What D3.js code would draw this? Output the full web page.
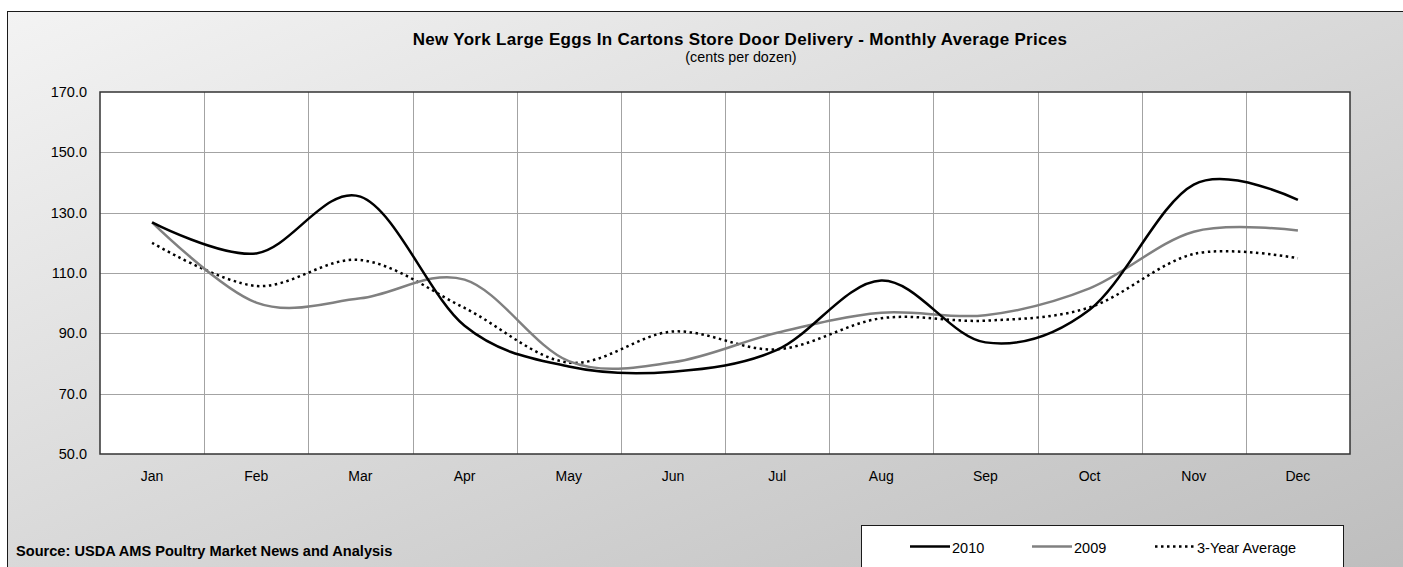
<!DOCTYPE html>
<html>
<head>
<meta charset="utf-8">
<script src="https://cdn.jsdelivr.net/npm/d3@7"></script>
<style>
  html, body { margin: 0; padding: 0; background: #fff; }
  svg { display: block; font-family: "Liberation Sans", Arial, sans-serif; }
</style>
</head>
<body>
<svg id="chart" width="1403" height="567"></svg>
<script>
// chart values
const months = ['Jan', 'Feb', 'Mar', 'Apr', 'May', 'Jun', 'Jul', 'Aug', 'Sep', 'Oct', 'Nov', 'Dec'];
const prices2010 = [126.8, 116.5, 135.3, 92.5, 79.0, 77.3, 84.5, 107.5, 87.0, 97.8, 139.3, 134.2];
const prices2009 = [126.8, 100.2, 101.6, 107.8, 80.8, 80.4, 90.2, 96.8, 96.0, 104.9, 123.7, 124.1];
const avg3Year = [120.0, 105.7, 114.3, 98.4, 80.3, 90.6, 84.7, 95.0, 94.2, 98.6, 116.3, 114.9];
const yTicks = [50, 70, 90, 110, 130, 150, 170];

const series = [
  { name: '2010', values: prices2010, color: '#000', width: 2.5, dash: null },
  { name: '2009', values: prices2009, color: '#808080', width: 2.5, dash: null },
  { name: '3-Year Average', values: avg3Year, color: '#000', width: 2.5, dash: '2.5,3.5' }
];

const svg = d3.select('#chart');
const plot = { left: 100, top: 92, right: 1350, bottom: 454 };

// background panel with diagonal gradient
const defs = svg.append('defs');
const grad = defs.append('linearGradient')
  .attr('id', 'bg')
  .attr('x1', 0).attr('y1', 0)
  .attr('x2', 1).attr('y2', 1);
grad.append('stop').attr('offset', '0%').attr('stop-color', '#f3f3f3');
grad.append('stop').attr('offset', '100%').attr('stop-color', '#bcbcbc');

svg.append('rect')
  .attr('x', 7.5).attr('y', 11.5)
  .attr('width', 1430).attr('height', 580)
  .attr('fill', 'url(#bg)')
  .attr('stroke', '#1a1a1a')
  .attr('stroke-width', 1);

// scales
const x = d3.scaleBand()
  .domain(months)
  .range([plot.left, plot.right]);

const y = d3.scaleLinear()
  .domain([50, 170])
  .range([plot.bottom, plot.top]);

// plot area
svg.append('rect')
  .attr('x', plot.left).attr('y', plot.top)
  .attr('width', plot.right - plot.left)
  .attr('height', plot.bottom - plot.top)
  .attr('fill', '#fff');

// gridlines
const grid = svg.append('g').attr('class', 'grid')
  .attr('stroke', '#a3a3a3')
  .attr('stroke-width', 1);

grid.selectAll('line.h')
  .data(yTicks.slice(1, -1))
  .join('line')
  .attr('class', 'h')
  .attr('x1', plot.left).attr('x2', plot.right)
  .attr('y1', d => Math.round(y(d)) + 0.5)
  .attr('y2', d => Math.round(y(d)) + 0.5);

grid.selectAll('line.v')
  .data(months.slice(1))
  .join('line')
  .attr('class', 'v')
  .attr('x1', d => Math.round(x(d)) + 0.5)
  .attr('x2', d => Math.round(x(d)) + 0.5)
  .attr('y1', plot.top).attr('y2', plot.bottom);

// axes labels
const yAxis = d3.axisLeft(y)
  .tickValues(yTicks)
  .tickFormat(d3.format('.1f'))
  .tickSize(0)
  .tickPadding(13);

svg.append('g')
  .attr('transform', `translate(${plot.left},0)`)
  .call(yAxis)
  .call(g => g.select('.domain').remove())
  .call(g => g.selectAll('text')
    .attr('font-family', '"Liberation Sans", Arial, sans-serif')
    .attr('font-size', 14.5)
    .attr('fill', '#000'));

const xAxis = d3.axisBottom(x)
  .tickSize(0)
  .tickPadding(17);

svg.append('g')
  .attr('transform', `translate(0,${plot.bottom})`)
  .call(xAxis)
  .call(g => g.select('.domain').remove())
  .call(g => g.selectAll('text')
    .attr('font-family', '"Liberation Sans", Arial, sans-serif')
    .attr('font-size', 14)
    .attr('fill', '#000'));

// lines
const line = d3.line()
  .x((d, i) => x(months[i]) + x.bandwidth() / 2)
  .y(d => y(d))
  .curve(d3.curveCardinal.tension(0));

svg.append('g').attr('class', 'series')
  .selectAll('path')
  .data(series.slice().reverse())
  .join('path')
  .attr('d', d => line(d.values))
  .attr('fill', 'none')
  .attr('stroke', d => d.color)
  .attr('stroke-width', d => d.width)
  .attr('stroke-dasharray', d => d.dash)
  .attr('stroke-linejoin', 'round');

// plot border
svg.append('rect')
  .attr('x', plot.left).attr('y', plot.top)
  .attr('width', plot.right - plot.left)
  .attr('height', plot.bottom - plot.top)
  .attr('fill', 'none')
  .attr('stroke', '#333')
  .attr('stroke-width', 1.5);

// titles
svg.append('text')
  .attr('x', 740).attr('y', 45)
  .attr('text-anchor', 'middle')
  .attr('font-size', 17)
  .attr('letter-spacing', 0.3)
  .attr('font-weight', 'bold')
  .text('New York Large Eggs In Cartons Store Door Delivery - Monthly Average Prices');

svg.append('text')
  .attr('x', 741).attr('y', 62)
  .attr('text-anchor', 'middle')
  .attr('font-size', 14.3)
  .text('(cents per dozen)');

svg.append('text')
  .attr('x', 16).attr('y', 556)
  .attr('font-size', 14.6)
  .attr('font-weight', 'bold')
  .text('Source: USDA AMS Poultry Market News and Analysis');

// legend
const legend = svg.append('g').attr('class', 'legend');
legend.append('rect')
  .attr('x', 861.5).attr('y', 525.5)
  .attr('width', 482).attr('height', 60)
  .attr('fill', '#fff')
  .attr('stroke', '#1a1a1a')
  .attr('stroke-width', 1);

const legendX = [910, 1032, 1155];
const item = legend.selectAll('g.item')
  .data(series)
  .join('g')
  .attr('class', 'item')
  .attr('transform', (d, i) => `translate(${legendX[i]},546.5)`);

item.append('line')
  .attr('x1', 0).attr('x2', 40)
  .attr('stroke', d => d.color)
  .attr('stroke-width', d => d.width)
  .attr('stroke-dasharray', d => d.dash);

item.append('text')
  .attr('x', 42).attr('y', 6.5)
  .attr('font-size', 14.5)
  .text(d => d.name);
</script>
</body>
</html>
